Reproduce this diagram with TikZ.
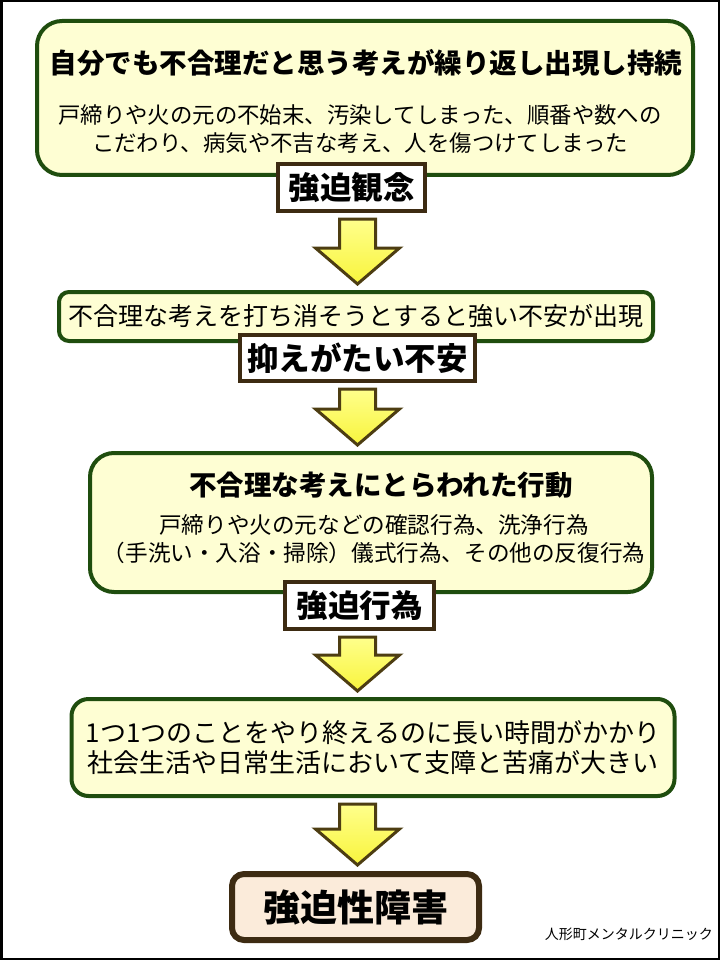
\documentclass[tikz,border=0pt]{standalone}
\usepackage{fontspec}
\setmainfont{Noto Sans CJK JP}
\usepackage{tikz}
\usetikzlibrary{calc,positioning,shapes}
\definecolor{boxfill}{HTML}{FEFED3}
\definecolor{boxline}{HTML}{1F4D0E}
\definecolor{tagline}{HTML}{3D2B12}
\definecolor{arrowtop}{HTML}{FFFF8C}
\definecolor{arrowfill}{HTML}{F8F43C}
\definecolor{arrowline}{HTML}{4D3D12}
\definecolor{endfill}{HTML}{FBEBDA}
\tikzset{
  stage/.style={
    rectangle,
    rounded corners=#1,
    draw=boxline, line width=4pt,
    fill=boxfill,
    inner sep=0pt,
    align=center},
  stage/.default=10pt,
  tagword/.style={
    rectangle,
    draw=tagline, line width=4pt,
    fill=white,
    inner sep=0pt,
    font=\bfseries\fontsize{31.5}{36}\selectfont},
  headline/.style={inner sep=0pt, font=\bfseries\fontsize{27.5}{32}\selectfont},
  bodytext/.style={inner sep=0pt, align=center, font=\fontsize{22.4}{28}\selectfont},
}

\begin{document}
\begin{tikzpicture}[x=1pt, y=-1pt]
  \tikzset{
      result/.style={rectangle, rounded corners=12pt, draw=tagline, line width=6pt, fill=endfill, inner sep=0pt, font=\bfseries\fontsize{37}{42}\selectfont},
      blockarrow/.style={draw=arrowline, line width=3pt, line join=miter, top color=arrowtop, bottom color=arrowfill},
  }
  \useasboundingbox (0,0) rectangle (720,960);
  \draw[line width=2.5pt] (1.25,1.25) rectangle (718.75,958.75);
  \coordinate (axis) at (357.5,0);

  % obsession
  \node[stage=25pt, minimum width=656pt, minimum height=154pt] (box1) at (365,98) {};
  \node[headline] (obsTitle) at (366,63) {自分でも不合理だと思う考えが繰り返し出現し持続};
  \node[bodytext] (obsBody) at (360,129) {戸締りや火の元の不始末、汚染してしまった、順番や数への\\こだわり、病気や不吉な考え、人を傷つけてしまった};
  \node[tagword, minimum width=147pt, minimum height=47pt] (lab1) at (351.5,187.5) {強迫観念};

  % anxiety
  \node[stage=10pt, minimum width=594pt, minimum height=49pt, font=\fontsize{25}{30}\selectfont] (box2) at (356,316.5) {不合理な考えを打ち消そうとすると強い不安が出現};
  \node[tagword, minimum width=235pt, minimum height=46pt] (lab2) at (357.5,358) {抑えがたい不安};

  % compulsion
  \node[stage=24pt, minimum width=562pt, minimum height=139pt] (box3) at (371,522.5) {};
  \node[headline] (actTitle) at (381,485) {不合理な考えにとらわれた行動};
  \node[bodytext, font=\fontsize{22.6}{28}\selectfont] (actBody) at (374,539) {戸締りや火の元などの確認行為、洗浄行為\\（手洗い・入浴・掃除）儀式行為、その他の反復行為};
  \node[tagword, minimum width=149pt, minimum height=47pt] (lab3) at (359.5,605.5) {強迫行為};

  % burden
  \node[stage=17pt, minimum width=603pt, minimum height=97pt, font=\fontsize{26}{30}\selectfont] (box4) at (373,747.5) {1つ1つのことをやり終えるのに長い時間がかかり\\社会生活や日常生活において支障と苦痛が大きい};

  \node[result, minimum width=247pt, minimum height=66pt] (final) at (355.5,907) {強迫性障害};
  \node[anchor=east, inner sep=0pt, font=\fontsize{14}{16}\selectfont] (credit) at (713,934) {人形町メンタルクリニック};

  \foreach \src/\dst in {lab1/box2, lab2/box3, lab3/box4, box4/final}
    \draw[blockarrow] ($(axis |- \src.south)+(-18,6)$) -- ++(36,0)
      -- ($(axis |- \dst.north)+(18,-42)$) -- ++(24,0)
      -- ($(axis |- \dst.north)+(0,-6)$) -- ++(-42,-36) -- ++(24,0) -- cycle;
\end{tikzpicture}
\end{document}
